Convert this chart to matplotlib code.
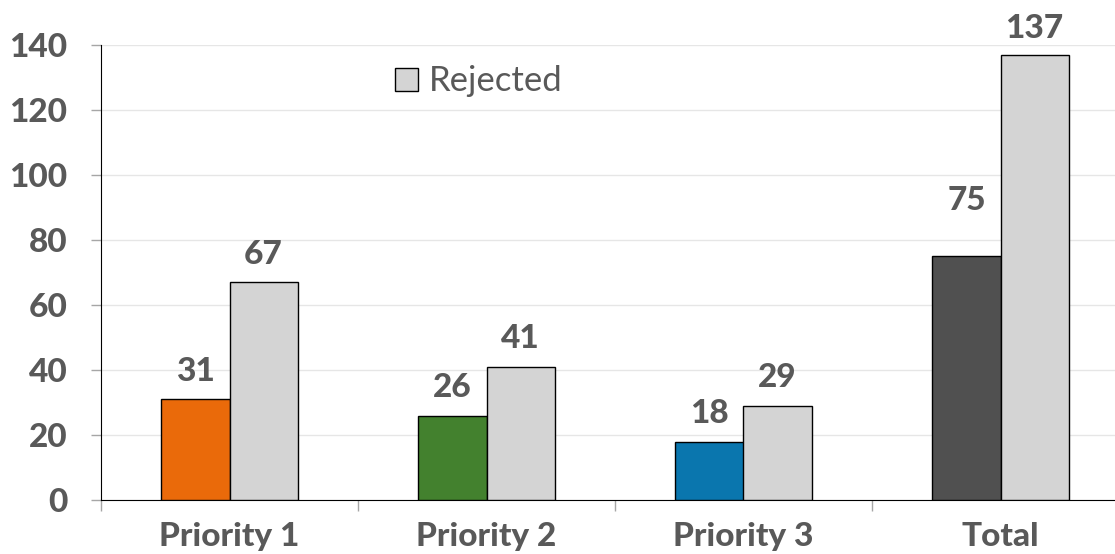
import numpy as np
from matplotlib import pyplot as plt
from matplotlib.patches import Patch

categories = ["Priority 1", "Priority 2", "Priority 3", "Total"]
accepted = [31, 26, 18, 75]
rejected = [67, 41, 29, 137]
accepted_colors = ["#EA6A0A", "#43812E", "#0A76AE", "#505050"]
rejected_color = "#D4D4D4"
text_color = "#595959"

plt.rcParams["font.family"] = ["Lato", "DejaVu Sans"]
WEIGHT = "black"
FS = 24

fig = plt.figure(figsize=(11.15, 5.54), dpi=100)
# axes spills past the right edge, like the original
ax = fig.add_axes([101 / 1115, 54 / 554, 1028 / 1115, 455 / 554])

x = np.arange(len(categories))
w = 0.265
bars_a = ax.bar(x - w / 2, accepted, w, color=accepted_colors, edgecolor="black", linewidth=1, zorder=3)
bars_r = ax.bar(x + w / 2, rejected, w, color=rejected_color, edgecolor="black", linewidth=1, zorder=3)

#* value labels; the Total "75" sits higher in the source chart
for i, b in enumerate(bars_a):
    off = 40 if i == 3 else 20
    ax.annotate(str(accepted[i]), (b.get_x() + b.get_width() / 2, b.get_height()),
                xytext=(0, off), textcoords="offset points", ha="center", va="center",
                fontsize=FS, fontweight=WEIGHT, color=text_color)
for i, b in enumerate(bars_r):
    off = 19 if i == 3 else 20
    ax.annotate(str(rejected[i]), (b.get_x() + b.get_width() / 2, b.get_height()),
                xytext=(0, off), textcoords="offset points", ha="center", va="center",
                fontsize=FS, fontweight=WEIGHT, color=text_color)

ax.set_xlim(-0.5, len(categories) - 0.5)
ax.set_ylim(0, 140)
ax.set_yticks(range(0, 141, 20))
ax.grid(axis="y", color="#E6E6E6", linewidth=1, zorder=0)

ax.set_xticks(x)
ax.set_xticklabels(categories)
ax.set_xticks(np.arange(-0.5, len(categories), 1), minor=True)
ax.tick_params(axis="x", which="major", length=0, pad=16, labelsize=FS, labelcolor=text_color)
ax.tick_params(axis="x", which="minor", length=8, color="#A6A6A6", width=1)
ax.tick_params(axis="y", length=7.2, color="#A6A6A6", width=1, pad=17, labelsize=FS, labelcolor=text_color)
for lab in ax.get_xticklabels() + ax.get_yticklabels():
    lab.set_fontweight(WEIGHT)

for s in ["top", "right"]:
    ax.spines[s].set_visible(False)
ax.spines["left"].set_color("black")
ax.spines["bottom"].set_color("black")

handle = Patch(facecolor=rejected_color, edgecolor="black", linewidth=1)
ax.legend([handle], ["Rejected"], loc="center left", bbox_to_anchor=(0.256, 0.92),
          frameon=False, fontsize=FS + 1, labelcolor=text_color, handlelength=0.65,
          handleheight=0.65, handletextpad=0.3)

fig.savefig("out.png", dpi=100)
